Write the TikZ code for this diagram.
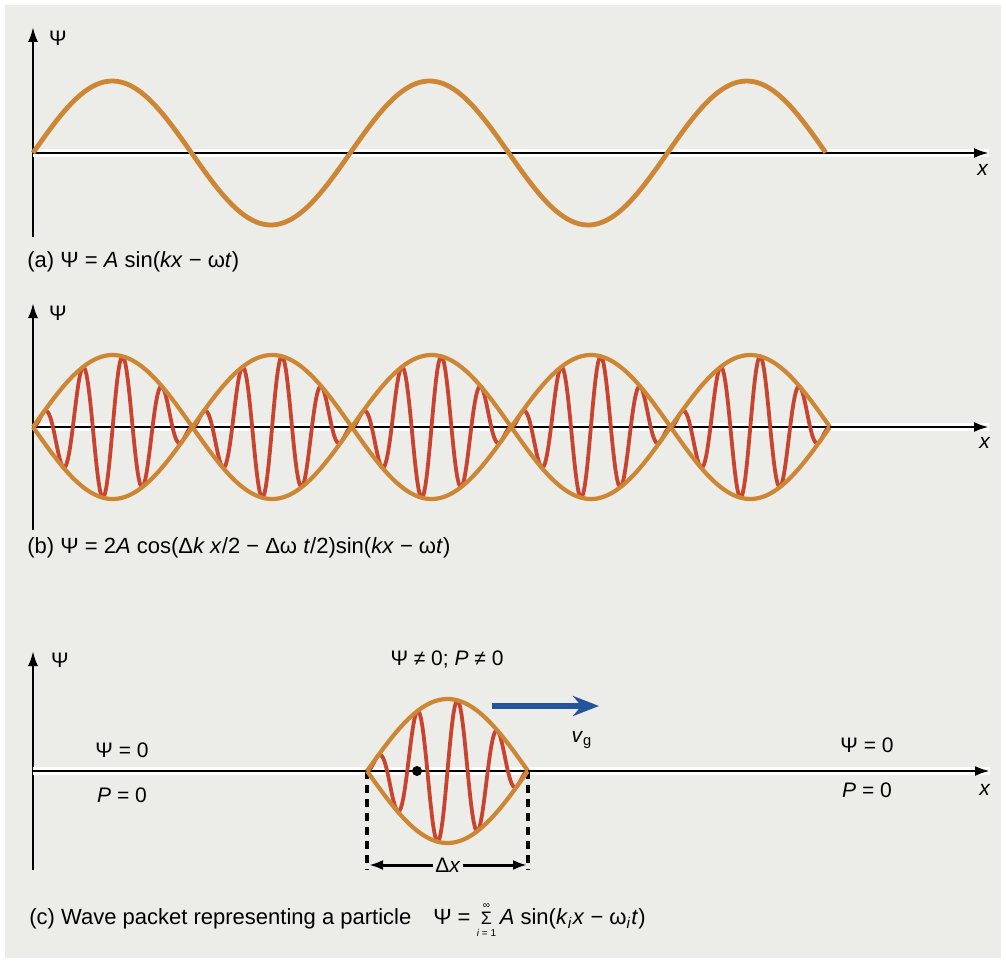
\documentclass[tikz,border=0pt]{standalone}
\usepackage{fontspec}
\setmainfont{Liberation Sans}
\usetikzlibrary{arrows.meta,positioning,calc}

\begin{document}
\begin{tikzpicture}[x=0.5pt, y=-0.5pt, font=\fontsize{10.5}{12}\selectfont]
    % Color Palette
    \definecolor{paperColor}{HTML}{ECECE9}
    \definecolor{envColor}{HTML}{CC8634}
    \definecolor{carrierColor}{HTML}{C8442F}
    \definecolor{groupColor}{HTML}{24559C}

    \tikzset{
        yaxis/.style={line width=1.2pt, black, -{Latex[length=7.5pt,width=5pt]}},
        xaxis/.style={line width=1.3pt, black, -{Latex[length=7.5pt,width=5pt]}, preaction={draw=white, line width=3.8pt, -}},
        envelope/.style={envColor, line width=2.1pt, line join=round},
        carrier/.style={carrierColor, line width=1.9pt, line join=round},
        caption/.style={anchor=west, inner sep=0pt, font=\fontsize{11}{13}\selectfont}
    }

    \useasboundingbox (0,0) rectangle (1006,963);
    \fill[paperColor] (5,5) rectangle (1001,958);

    % --- Panel (a): single wave ---
    \begin{scope}[shift={(0,153)}]
        \coordinate (oA) at (33,0);
        \coordinate (topA) at (33,-126);
        \coordinate (botA) at (33,84);
        \coordinate (endA) at (989,0);
        \draw[yaxis] (botA) -- (topA);
        \draw[xaxis] (oA) -- (endA);
        \node (psiA) at (58,-115) {Ψ};
        \node (xA) at (983,17) {\textit{x}};

        \draw[envelope, line width=2.4pt] plot[domain=0:2.5, samples=200] ({33+317.2*\x}, {-72*sin(360*\x)});

        \node[caption] (capA) at (27,109) {(a) Ψ = \textit{A} sin(\textit{kx} − ω\textit{t})};
    \end{scope}

    % --- Panel (b): two waves, beats ---
    \begin{scope}[shift={(0,427)}]
        \coordinate (oB) at (33,0);
        \coordinate (topB) at (33,-124);
        \coordinate (botB) at (33,103);
        \coordinate (endB) at (989,0);
        \draw[yaxis] (botB) -- (topB);
        \draw[xaxis] (oB) -- (endB);
        \node (psiB) at (58,-114) {Ψ};
        \node (xB) at (985,16) {\textit{x}};

        \foreach \n in {0,...,4} {
            \draw[carrier] plot[domain=0:1, samples=120] ({33+159.4*(\n+\x)}, {-72*sin(180*\x)*sin(1440*\x)});
        }
        \draw[envelope] plot[domain=0:5, samples=400] ({33+159.4*\x}, {-72*abs(sin(180*\x))});
        \draw[envelope] plot[domain=0:5, samples=400] ({33+159.4*\x}, {72*abs(sin(180*\x))});

        \node[caption] (capB) at (27,121) {(b) Ψ = 2\textit{A} cos(Δ\textit{k x}/2 − Δω \textit{t}/2)sin(\textit{kx} − ω\textit{t})};
    \end{scope}

    % --- Panel (c): wave packet ---
    \begin{scope}[shift={(0,771)}]
        \coordinate (oC) at (33,0);
        \coordinate (topC) at (33,-120);
        \coordinate (botC) at (33,99);
        \coordinate (endC) at (990,0);
        \draw[yaxis] (botC) -- (topC);
        \draw[xaxis] (oC) -- (endC);
        \node (psiC) at (60,-111) {Ψ};
        \node (xC) at (985,19) {\textit{x}};

        \node (psiZeroL) at (122,-21) {Ψ = 0};
        \node (pZeroL) at (122,24) {\textit{P} = 0};
        \node (psiZeroR) at (867,-26) {Ψ = 0};
        \node (pZeroR) at (867,19) {\textit{P} = 0};
        \node (packetLab) at (447,-111) {Ψ ≠ 0; \textit{P} ≠ 0};

        % packet edges
        \coordinate (pkL) at (367,0);
        \coordinate (pkR) at (528,0);
        \coordinate (pkLb) at (367,99);
        \coordinate (pkRb) at (528,99);
        \draw[black, line width=1.8pt, dash pattern=on 4pt off 3pt] (pkL) -- (pkLb);
        \draw[black, line width=1.8pt, dash pattern=on 4pt off 3pt] (pkR) -- (pkRb);

        \draw[carrier] plot[domain=0:1, samples=120] ({367+161*\x}, {-72*sin(180*\x)*sin(1440*\x)});
        \draw[envelope] plot[domain=0:1, samples=100] ({367+161*\x}, {-72*sin(180*\x)});
        \draw[envelope] plot[domain=0:1, samples=100] ({367+161*\x}, {72*sin(180*\x)});

        \fill[black] (417,0) circle (5);

        % group velocity
        \coordinate (vgS) at (492,-65);
        \coordinate (vgE) at (599,-65);
        \draw[groupColor, line width=3.2pt, -{Stealth[length=13pt,width=10pt]}] (vgS) -- (vgE);
        \node (vgLab) at (582,-31) {\textit{v}\textsubscript{g}};

        % packet width
        \coordinate (dxL) at (369,94);
        \coordinate (dxR) at (527,94);
        \draw[black, line width=1.5pt, {Latex[length=7pt,width=5pt]}-{Latex[length=7pt,width=5pt]}] (dxL) -- (dxR) node[midway, fill=paperColor, inner sep=1pt] (dxLab) {Δ\textit{x}};

        \node[caption] (capC) at (29,149) {(c) Wave packet representing a particle\quad Ψ = \(\mathop{\mbox{\small Σ}}\limits_{\mbox{\tiny\textit{i} = 1}}^{\mbox{\tiny ∞}}\)\,\textit{A} sin(\textit{k}\textsubscript{\textit{i}}\textit{x} − ω\textsubscript{\textit{i}}\textit{t})};
    \end{scope}

\end{tikzpicture}
\end{document}
